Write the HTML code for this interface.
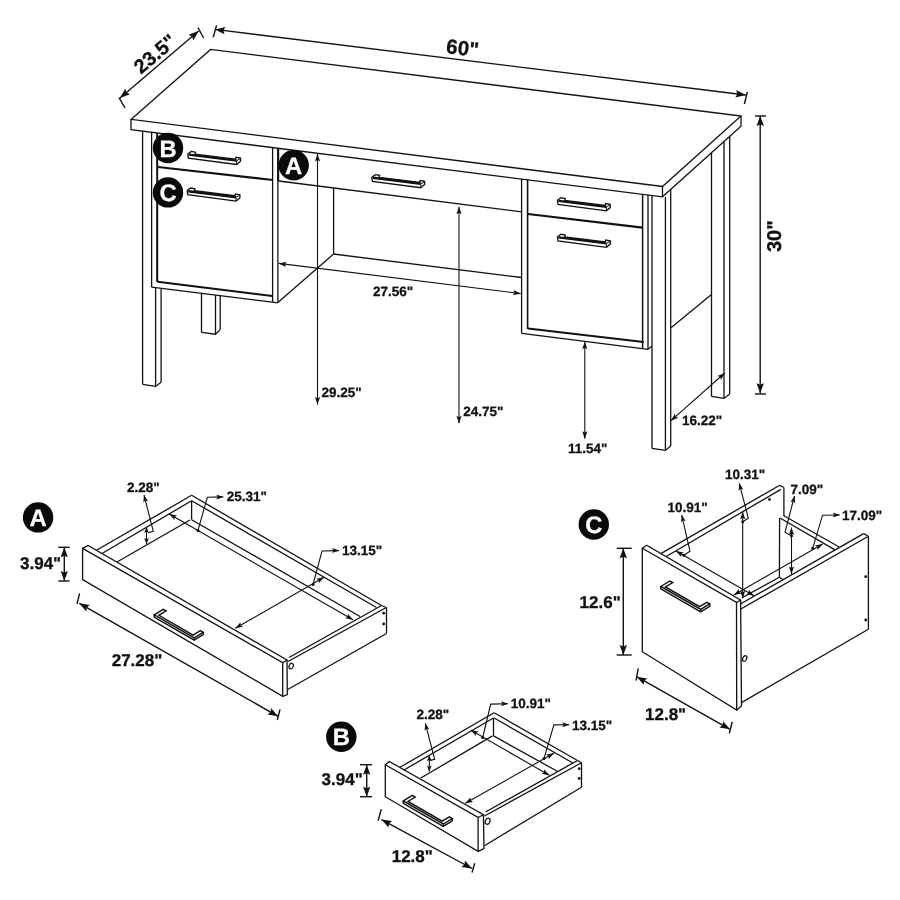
<!DOCTYPE html>
<html><head><meta charset="utf-8"><title>Desk dimensions</title>
<style>
html,body{margin:0;padding:0;background:#fff;}
body{width:900px;height:900px;overflow:hidden;}
svg{display:block;will-change:transform;opacity:0.999;}
svg text{font-family:"Liberation Sans",Arial,Helvetica,sans-serif;font-weight:bold;fill:#111;stroke:#111;stroke-width:0.3px;text-rendering:geometricPrecision;}
</style></head><body>
<svg width="900" height="900" viewBox="0 0 900 900">
<rect width="900" height="900" fill="#fff"/>
<path d="M131.0 119.4 L210.6 49.4 L741.0 116.0 L662.5 186.5 Z" fill="#fff" stroke="#111" stroke-width="1.3" stroke-linejoin="miter"/>
<path d="M131.0 119.4 L131.0 129.7 L662.5 196.8 L741.0 126.3 L741.0 116.0" fill="none" stroke="#111" stroke-width="1.3" stroke-linejoin="miter"/>
<line x1="662.5" y1="186.5" x2="662.5" y2="196.8" stroke="#111" stroke-width="1.3"/>
<line x1="142.6" y1="131.2" x2="142.6" y2="384.3" stroke="#111" stroke-width="1.3"/>
<line x1="151.6" y1="132.3" x2="151.6" y2="287.1" stroke="#111" stroke-width="1.3"/>
<line x1="155.6" y1="287.6" x2="155.6" y2="386.4" stroke="#111" stroke-width="1.3"/>
<line x1="161.1" y1="288.3" x2="161.1" y2="382.3" stroke="#111" stroke-width="1.3"/>
<path d="M142.6 384.3 L155.6 386.4 L161.1 382.3" fill="none" stroke="#111" stroke-width="1.3" stroke-linejoin="miter"/>
<line x1="157.2" y1="133.0" x2="157.2" y2="282.0" stroke="#111" stroke-width="2.0"/>
<line x1="151.6" y1="287.1" x2="277.8" y2="302.8" stroke="#111" stroke-width="1.3"/>
<line x1="157.6" y1="281.8" x2="272.4" y2="295.9" stroke="#111" stroke-width="2.0"/>
<line x1="272.6" y1="147.6" x2="272.6" y2="302.0" stroke="#111" stroke-width="1.3"/>
<line x1="277.9" y1="148.2" x2="277.9" y2="302.7" stroke="#111" stroke-width="1.3"/>
<line x1="158.0" y1="167.0" x2="273.0" y2="180.0" stroke="#111" stroke-width="2.2"/>
<line x1="201.5" y1="293.3" x2="201.5" y2="332.3" stroke="#111" stroke-width="1.3"/>
<line x1="215.5" y1="295.2" x2="215.5" y2="334.2" stroke="#111" stroke-width="1.3"/>
<line x1="220.2" y1="295.0" x2="220.2" y2="329.6" stroke="#111" stroke-width="1.3"/>
<path d="M201.5 332.3 L215.5 334.2 L220.2 329.6" fill="none" stroke="#111" stroke-width="1.3" stroke-linejoin="miter"/>
<line x1="278.7" y1="181.0" x2="521.6" y2="211.9" stroke="#111" stroke-width="1.3"/>
<line x1="278.2" y1="148.3" x2="278.2" y2="181.0" stroke="#111" stroke-width="2.0"/>
<line x1="333.6" y1="188.0" x2="333.6" y2="254.0" stroke="#111" stroke-width="1.3"/>
<line x1="277.9" y1="302.6" x2="333.6" y2="254.0" stroke="#111" stroke-width="1.3"/>
<line x1="333.6" y1="254.0" x2="521.6" y2="277.5" stroke="#111" stroke-width="1.3"/>
<line x1="521.6" y1="179.0" x2="521.6" y2="333.4" stroke="#111" stroke-width="1.3"/>
<line x1="527.6" y1="179.8" x2="527.6" y2="329.0" stroke="#111" stroke-width="1.6"/>
<line x1="521.7" y1="333.4" x2="648.0" y2="349.3" stroke="#111" stroke-width="1.3"/>
<line x1="648.0" y1="349.3" x2="651.9" y2="346.3" stroke="#111" stroke-width="1.3"/>
<line x1="528.0" y1="328.5" x2="643.6" y2="342.0" stroke="#111" stroke-width="2.0"/>
<line x1="528.0" y1="214.0" x2="642.6" y2="227.6" stroke="#111" stroke-width="2.2"/>
<line x1="642.6" y1="194.3" x2="642.6" y2="348.6" stroke="#111" stroke-width="1.5"/>
<line x1="648.0" y1="195.0" x2="648.0" y2="349.3" stroke="#111" stroke-width="1.3"/>
<line x1="652.0" y1="195.5" x2="652.0" y2="448.4" stroke="#111" stroke-width="1.3"/>
<line x1="665.4" y1="197.0" x2="665.4" y2="450.4" stroke="#111" stroke-width="1.3"/>
<line x1="670.7" y1="189.4" x2="670.7" y2="446.0" stroke="#111" stroke-width="1.3"/>
<path d="M652.0 448.4 L665.4 450.4 L670.7 446.0" fill="none" stroke="#111" stroke-width="1.3" stroke-linejoin="miter"/>
<line x1="671.0" y1="327.7" x2="711.5" y2="294.4" stroke="#111" stroke-width="1.3"/>
<line x1="711.5" y1="152.8" x2="711.5" y2="396.4" stroke="#111" stroke-width="1.3"/>
<line x1="724.0" y1="141.6" x2="724.0" y2="398.4" stroke="#111" stroke-width="1.3"/>
<line x1="729.7" y1="136.4" x2="729.7" y2="394.0" stroke="#111" stroke-width="1.3"/>
<path d="M711.5 396.4 L724.0 398.4 L729.7 394.0" fill="none" stroke="#111" stroke-width="1.3" stroke-linejoin="miter"/>
<path d="M187.8 154.0 L191.3 151.4 L195.5 152.2 L195.0 154.1 L235.5 159.1 L236.0 157.3 L240.5 158.1 L240.5 161.3 L236.7 164.5 L188.3 158.1 Z" fill="#fff" stroke="#111" stroke-width="1.35" stroke-linejoin="miter"/>
<line x1="188.8" y1="154.6" x2="236.7" y2="160.6" stroke="#111" stroke-width="2.4"/>
<line x1="236.7" y1="164.5" x2="236.7" y2="160.7" stroke="#111" stroke-width="1.0"/>
<line x1="236.7" y1="160.7" x2="240.5" y2="158.4" stroke="#111" stroke-width="1.0"/>
<path d="M187.2 190.6 L190.7 188.0 L194.9 188.8 L194.4 190.7 L234.9 195.7 L235.4 193.9 L239.9 194.7 L239.9 197.9 L236.1 201.1 L187.7 194.7 Z" fill="#fff" stroke="#111" stroke-width="1.35" stroke-linejoin="miter"/>
<line x1="188.2" y1="191.2" x2="236.1" y2="197.2" stroke="#111" stroke-width="2.4"/>
<line x1="236.1" y1="201.1" x2="236.1" y2="197.3" stroke="#111" stroke-width="1.0"/>
<line x1="236.1" y1="197.3" x2="239.9" y2="195.0" stroke="#111" stroke-width="1.0"/>
<path d="M371.9 177.2 L375.4 174.6 L379.6 175.4 L379.1 177.3 L419.6 182.3 L420.1 180.5 L424.6 181.3 L424.6 184.5 L420.8 187.7 L372.4 181.3 Z" fill="#fff" stroke="#111" stroke-width="1.35" stroke-linejoin="miter"/>
<line x1="372.9" y1="177.8" x2="420.8" y2="183.8" stroke="#111" stroke-width="2.4"/>
<line x1="420.8" y1="187.7" x2="420.8" y2="183.9" stroke="#111" stroke-width="1.0"/>
<line x1="420.8" y1="183.9" x2="424.6" y2="181.6" stroke="#111" stroke-width="1.0"/>
<path d="M557.5 200.3 L561.0 197.7 L565.2 198.5 L564.7 200.4 L605.2 205.4 L605.7 203.6 L610.2 204.4 L610.2 207.6 L606.4 210.8 L558.0 204.4 Z" fill="#fff" stroke="#111" stroke-width="1.35" stroke-linejoin="miter"/>
<line x1="558.5" y1="200.9" x2="606.4" y2="206.9" stroke="#111" stroke-width="2.4"/>
<line x1="606.4" y1="210.8" x2="606.4" y2="207.0" stroke="#111" stroke-width="1.0"/>
<line x1="606.4" y1="207.0" x2="610.2" y2="204.7" stroke="#111" stroke-width="1.0"/>
<path d="M557.5 236.8 L561.0 234.2 L565.2 235.0 L564.7 236.9 L605.2 241.9 L605.7 240.1 L610.2 240.9 L610.2 244.1 L606.4 247.3 L558.0 240.9 Z" fill="#fff" stroke="#111" stroke-width="1.35" stroke-linejoin="miter"/>
<line x1="558.5" y1="237.4" x2="606.4" y2="243.4" stroke="#111" stroke-width="2.4"/>
<line x1="606.4" y1="247.3" x2="606.4" y2="243.5" stroke="#111" stroke-width="1.0"/>
<line x1="606.4" y1="243.5" x2="610.2" y2="241.2" stroke="#111" stroke-width="1.0"/>
<circle cx="168.0" cy="148.0" r="15.2" fill="#0a0a0a"/>
<text x="168.0" y="156.5" font-size="23.8" text-anchor="middle" style="fill:#fff;stroke:#fff">B</text>
<circle cx="168.0" cy="192.4" r="15.2" fill="#0a0a0a"/>
<text x="168.0" y="200.9" font-size="23.8" text-anchor="middle" style="fill:#fff;stroke:#fff">C</text>
<circle cx="293.7" cy="165.2" r="15.2" fill="#0a0a0a"/>
<text x="293.7" y="173.7" font-size="23.8" text-anchor="middle" style="fill:#fff;stroke:#fff">A</text>
<line x1="317.5" y1="154.0" x2="317.5" y2="404.6" stroke="#111" stroke-width="1.1"/>
<path d="M317.5 154.0 L320.1 161.5 L317.5 160.0 L314.9 161.5 Z" fill="#111"/>
<path d="M317.5 404.6 L314.9 397.1 L317.5 398.6 L320.1 397.1 Z" fill="#111"/>
<line x1="459.0" y1="206.7" x2="459.0" y2="423.3" stroke="#111" stroke-width="1.1"/>
<path d="M459.0 206.7 L461.6 214.2 L459.0 212.7 L456.4 214.2 Z" fill="#111"/>
<path d="M459.0 423.3 L456.4 415.8 L459.0 417.3 L461.6 415.8 Z" fill="#111"/>
<line x1="584.8" y1="341.7" x2="584.8" y2="438.8" stroke="#111" stroke-width="1.1"/>
<path d="M584.8 341.7 L587.4 349.2 L584.8 347.7 L582.2 349.2 Z" fill="#111"/>
<path d="M584.8 438.8 L582.2 431.3 L584.8 432.8 L587.4 431.3 Z" fill="#111"/>
<line x1="671.0" y1="420.7" x2="724.8" y2="373.0" stroke="#111" stroke-width="1.1"/>
<path d="M671.0 420.7 L674.9 413.8 L675.5 416.7 L678.3 417.7 Z" fill="#111"/>
<path d="M724.8 373.0 L720.9 379.9 L720.3 377.0 L717.5 376.0 Z" fill="#111"/>
<line x1="278.8" y1="263.4" x2="520.6" y2="293.6" stroke="#111" stroke-width="1.1"/>
<path d="M278.8 263.4 L286.6 261.7 L284.8 264.1 L285.9 266.9 Z" fill="#111"/>
<path d="M520.6 293.6 L512.8 295.3 L514.6 292.9 L513.5 290.1 Z" fill="#111"/>
<line x1="760.2" y1="116.0" x2="760.2" y2="393.3" stroke="#111" stroke-width="1.4"/>
<path d="M760.2 116.0 L763.9 126.0 L760.2 124.5 L756.5 126.0 Z" fill="#111"/>
<path d="M760.2 393.3 L756.5 383.3 L760.2 384.8 L763.9 383.3 Z" fill="#111"/>
<line x1="755.0" y1="116.0" x2="766.0" y2="116.0" stroke="#111" stroke-width="1.4"/>
<line x1="755.0" y1="394.0" x2="766.0" y2="394.0" stroke="#111" stroke-width="1.4"/>
<line x1="215.0" y1="29.4" x2="745.7" y2="95.0" stroke="#111" stroke-width="1.4"/>
<path d="M215.0 29.4 L225.4 27.0 L223.4 30.4 L224.5 34.3 Z" fill="#111"/>
<path d="M745.7 95.0 L735.3 97.4 L737.3 94.0 L736.2 90.1 Z" fill="#111"/>
<line x1="216.6" y1="25.4" x2="213.2" y2="37.2" stroke="#111" stroke-width="1.4"/>
<line x1="747.3" y1="92.0" x2="744.4" y2="104.0" stroke="#111" stroke-width="1.4"/>
<line x1="120.0" y1="98.0" x2="198.6" y2="31.0" stroke="#111" stroke-width="1.4"/>
<path d="M120.0 98.0 L125.2 88.7 L126.5 92.5 L130.0 94.3 Z" fill="#111"/>
<path d="M198.6 31.0 L193.4 40.3 L192.1 36.5 L188.6 34.7 Z" fill="#111"/>
<line x1="119.0" y1="97.6" x2="125.0" y2="108.0" stroke="#111" stroke-width="1.4"/>
<line x1="198.0" y1="27.6" x2="203.6" y2="38.0" stroke="#111" stroke-width="1.4"/>
<text x="373.0" y="295.6" font-size="13.5" text-anchor="start">27.56&quot;</text>
<text x="321.4" y="396.8" font-size="13.5" text-anchor="start">29.25&quot;</text>
<text x="463.3" y="415.7" font-size="13.5" text-anchor="start">24.75&quot;</text>
<text x="568.0" y="453.3" font-size="13.5" text-anchor="start">11.54&quot;</text>
<text x="682.0" y="424.5" font-size="13.5" text-anchor="start">16.22&quot;</text>
<text x="445.6" y="53.1" font-size="20.5" text-anchor="start" transform="rotate(7 445.6 53.1)">60&quot;</text>
<text x="781.1" y="252.0" font-size="20" text-anchor="start" transform="rotate(-90 781.1 252.0)">30&quot;</text>
<text x="141.0" y="74.8" font-size="20" text-anchor="start" transform="rotate(-40.4 141.0 74.8)">23.5&quot;</text>
<circle cx="38.1" cy="517.4" r="15.2" fill="#0a0a0a"/>
<text x="38.1" y="525.9" font-size="23.8" text-anchor="middle" style="fill:#fff;stroke:#fff">A</text>
<path d="M82.6 548.4 L282.7 662.7 L282.7 696.3 L82.6 579.6 Z" fill="none" stroke="#111" stroke-width="1.3" stroke-linejoin="miter"/>
<path d="M82.6 548.4 L88.0 545.4 L287.0 660.0 L282.7 662.7" fill="none" stroke="#111" stroke-width="1.3" stroke-linejoin="miter"/>
<path d="M287.0 660.0 L287.3 694.5 L282.7 696.3" fill="none" stroke="#111" stroke-width="1.3" stroke-linejoin="miter"/>
<line x1="96.5" y1="550.3" x2="191.6" y2="495.3" stroke="#111" stroke-width="1.3"/>
<line x1="102.0" y1="553.5" x2="191.6" y2="500.7" stroke="#111" stroke-width="1.3"/>
<line x1="117.0" y1="562.0" x2="190.0" y2="520.0" stroke="#111" stroke-width="1.3"/>
<line x1="191.6" y1="500.7" x2="191.6" y2="519.7" stroke="#111" stroke-width="1.3"/>
<line x1="191.6" y1="495.3" x2="381.5" y2="605.5" stroke="#111" stroke-width="1.3"/>
<line x1="381.5" y1="605.5" x2="386.3" y2="607.5" stroke="#111" stroke-width="1.3"/>
<line x1="191.6" y1="500.7" x2="376.5" y2="607.5" stroke="#111" stroke-width="1.3"/>
<line x1="191.6" y1="519.7" x2="360.0" y2="616.5" stroke="#111" stroke-width="1.3"/>
<line x1="381.5" y1="605.5" x2="289.0" y2="657.5" stroke="#111" stroke-width="1.3"/>
<line x1="386.3" y1="607.5" x2="288.0" y2="661.5" stroke="#111" stroke-width="1.3"/>
<line x1="386.5" y1="607.5" x2="386.5" y2="633.5" stroke="#111" stroke-width="1.3"/>
<line x1="386.5" y1="633.5" x2="287.7" y2="689.5" stroke="#111" stroke-width="1.3"/>
<circle cx="383.7" cy="613.2" r="1.4" fill="#111"/>
<circle cx="383.7" cy="624.0" r="1.4" fill="#111"/>
<ellipse cx="291.2" cy="666.1" rx="2.0" ry="2.9" fill="none" stroke="#111" stroke-width="1.2" transform="rotate(25 291.3 666)"/>
<path d="M154.2 614.8 L163.2 609.3 L166.1 610.9 L158.9 615.3 L193.1 635.1 L200.3 630.7 L203.2 632.3 L194.2 637.8 Z" fill="#fff" stroke="#111" stroke-width="1.45" stroke-linejoin="miter"/>
<path d="M154.2 614.8 L154.2 617.2 L194.2 640.2 L203.2 634.7 L203.2 632.3" fill="none" stroke="#111" stroke-width="1.45" stroke-linejoin="miter"/>
<line x1="194.2" y1="637.8" x2="194.2" y2="640.2" stroke="#111" stroke-width="1.2"/>
<line x1="64.3" y1="547.3" x2="64.3" y2="581.0" stroke="#111" stroke-width="1.4"/>
<path d="M64.3 547.3 L67.9 557.3 L64.3 555.8 L60.7 557.3 Z" fill="#111"/>
<path d="M64.3 581.0 L60.7 571.0 L64.3 572.5 L67.9 571.0 Z" fill="#111"/>
<line x1="58.3" y1="547.3" x2="69.6" y2="547.3" stroke="#111" stroke-width="1.4"/>
<line x1="58.3" y1="581.0" x2="69.6" y2="581.0" stroke="#111" stroke-width="1.4"/>
<text x="20.0" y="569.3" font-size="17" text-anchor="start">3.94&quot;</text>
<line x1="79.3" y1="603.3" x2="278.0" y2="716.3" stroke="#111" stroke-width="1.4"/>
<path d="M79.3 603.3 L89.8 605.0 L86.7 607.5 L86.2 611.5 Z" fill="#111"/>
<path d="M278.0 716.3 L267.5 714.6 L270.6 712.1 L271.1 708.1 Z" fill="#111"/>
<line x1="79.6" y1="593.4" x2="77.0" y2="604.0" stroke="#111" stroke-width="1.4"/>
<line x1="280.0" y1="709.3" x2="277.3" y2="720.0" stroke="#111" stroke-width="1.4"/>
<text x="111.7" y="666.0" font-size="17" text-anchor="start">27.28&quot;</text>
<line x1="169.3" y1="514.0" x2="353.0" y2="619.8" stroke="#111" stroke-width="1.1"/>
<path d="M169.3 514.0 L177.1 515.5 L174.5 517.0 L174.5 520.0 Z" fill="#111"/>
<path d="M353.0 619.8 L345.2 618.3 L347.8 616.8 L347.8 613.8 Z" fill="#111"/>
<circle cx="198.0" cy="530.4" r="1.5" fill="#111"/>
<path d="M198.0 530.4 L207.3 497.3 L223.3 496.9" fill="none" stroke="#111" stroke-width="1.1" stroke-linejoin="miter"/>
<path d="M223.3 496.9 L216.3 499.4 L217.8 496.9 L216.3 494.4 Z" fill="#111"/>
<text x="226.7" y="501.0" font-size="13.5" text-anchor="start">25.31&quot;</text>
<line x1="235.3" y1="628.3" x2="324.0" y2="577.2" stroke="#111" stroke-width="1.1"/>
<path d="M235.3 628.3 L240.5 622.3 L240.5 625.3 L243.1 626.8 Z" fill="#111"/>
<path d="M324.0 577.2 L318.8 583.2 L318.8 580.2 L316.2 578.7 Z" fill="#111"/>
<circle cx="313.0" cy="584.5" r="1.5" fill="#111"/>
<path d="M313.0 584.5 L322.0 551.0 L339.0 550.6" fill="none" stroke="#111" stroke-width="1.1" stroke-linejoin="miter"/>
<path d="M339.0 550.6 L332.0 553.1 L333.5 550.6 L332.0 548.1 Z" fill="#111"/>
<text x="342.0" y="555.0" font-size="13.5" text-anchor="start">13.15&quot;</text>
<line x1="146.5" y1="527.0" x2="146.5" y2="544.0" stroke="#111" stroke-width="1.1"/>
<path d="M146.5 527.0 L148.9 533.0 L146.5 531.5 L144.1 533.0 Z" fill="#111"/>
<path d="M146.5 544.0 L144.1 538.0 L146.5 539.5 L148.9 538.0 Z" fill="#111"/>
<path d="M144.0 495.0 L153.3 531.3 L148.0 532.7" fill="none" stroke="#111" stroke-width="1.1" stroke-linejoin="miter"/>
<path d="M144.0 495.0 L148.1 501.2 L145.3 500.3 L143.3 502.4 Z" fill="#111"/>
<text x="127.0" y="491.6" font-size="13.5" text-anchor="start">2.28&quot;</text>
<circle cx="341.3" cy="736.8" r="15.2" fill="#0a0a0a"/>
<text x="341.3" y="745.3" font-size="23.8" text-anchor="middle" style="fill:#fff;stroke:#fff">B</text>
<path d="M385.3 764.7 L478.1 817.5 L478.1 851.3 L385.3 796.7 Z" fill="none" stroke="#111" stroke-width="1.3" stroke-linejoin="miter"/>
<path d="M385.3 764.7 L389.3 761.5 L483.4 814.8 L478.1 817.5" fill="none" stroke="#111" stroke-width="1.3" stroke-linejoin="miter"/>
<path d="M483.4 814.8 L484.0 848.7 L478.1 851.3" fill="none" stroke="#111" stroke-width="1.3" stroke-linejoin="miter"/>
<line x1="400.0" y1="767.3" x2="494.1" y2="712.7" stroke="#111" stroke-width="1.3"/>
<line x1="404.0" y1="770.0" x2="493.5" y2="718.0" stroke="#111" stroke-width="1.3"/>
<line x1="420.8" y1="778.0" x2="492.5" y2="735.9" stroke="#111" stroke-width="1.3"/>
<line x1="493.5" y1="718.0" x2="493.5" y2="735.9" stroke="#111" stroke-width="1.3"/>
<line x1="494.1" y1="712.7" x2="577.5" y2="760.5" stroke="#111" stroke-width="1.3"/>
<line x1="577.5" y1="760.5" x2="581.5" y2="762.7" stroke="#111" stroke-width="1.3"/>
<line x1="494.1" y1="718.0" x2="573.3" y2="763.3" stroke="#111" stroke-width="1.3"/>
<line x1="493.5" y1="735.9" x2="557.3" y2="771.3" stroke="#111" stroke-width="1.3"/>
<line x1="577.5" y1="760.5" x2="485.5" y2="812.0" stroke="#111" stroke-width="1.3"/>
<line x1="581.5" y1="762.7" x2="484.5" y2="816.0" stroke="#111" stroke-width="1.3"/>
<line x1="581.5" y1="762.7" x2="581.5" y2="787.3" stroke="#111" stroke-width="1.3"/>
<line x1="581.5" y1="787.3" x2="484.8" y2="845.5" stroke="#111" stroke-width="1.3"/>
<circle cx="579.2" cy="768.7" r="1.4" fill="#111"/>
<circle cx="579.2" cy="778.5" r="1.4" fill="#111"/>
<ellipse cx="487.6" cy="821.2" rx="2.3" ry="3.2" fill="none" stroke="#111" stroke-width="1.2" transform="rotate(25 487.7 821.2)"/>
<path d="M403.3 800.9 L412.3 795.4 L415.2 797.1 L408.0 801.5 L442.2 821.2 L449.4 816.8 L452.3 818.5 L443.3 824.0 Z" fill="#fff" stroke="#111" stroke-width="1.45" stroke-linejoin="miter"/>
<path d="M403.3 800.9 L403.3 803.3 L443.3 826.4 L452.3 820.9 L452.3 818.5" fill="none" stroke="#111" stroke-width="1.45" stroke-linejoin="miter"/>
<line x1="443.3" y1="824.0" x2="443.3" y2="826.4" stroke="#111" stroke-width="1.2"/>
<line x1="366.7" y1="764.7" x2="366.7" y2="796.7" stroke="#111" stroke-width="1.4"/>
<path d="M366.7 764.7 L370.3 774.7 L366.7 773.2 L363.1 774.7 Z" fill="#111"/>
<path d="M366.7 796.7 L363.1 786.7 L366.7 788.2 L370.3 786.7 Z" fill="#111"/>
<line x1="360.0" y1="764.7" x2="372.0" y2="764.7" stroke="#111" stroke-width="1.4"/>
<line x1="360.0" y1="796.7" x2="372.0" y2="796.7" stroke="#111" stroke-width="1.4"/>
<text x="321.6" y="784.6" font-size="17" text-anchor="start">3.94&quot;</text>
<line x1="381.5" y1="819.6" x2="472.0" y2="868.5" stroke="#111" stroke-width="1.4"/>
<path d="M381.5 819.6 L392.1 821.1 L389.0 823.6 L388.5 827.6 Z" fill="#111"/>
<path d="M472.0 868.5 L461.4 867.0 L464.5 864.5 L465.0 860.5 Z" fill="#111"/>
<line x1="381.3" y1="809.2" x2="378.1" y2="820.7" stroke="#111" stroke-width="1.4"/>
<line x1="474.7" y1="863.3" x2="472.0" y2="872.5" stroke="#111" stroke-width="1.4"/>
<text x="391.7" y="862.3" font-size="17" text-anchor="start">12.8&quot;</text>
<line x1="470.7" y1="730.0" x2="549.3" y2="775.3" stroke="#111" stroke-width="1.1"/>
<path d="M470.7 730.0 L478.5 731.5 L475.9 733.0 L475.9 736.0 Z" fill="#111"/>
<path d="M549.3 775.3 L541.5 773.8 L544.1 772.3 L544.1 769.3 Z" fill="#111"/>
<circle cx="482.7" cy="737.5" r="1.5" fill="#111"/>
<path d="M482.7 737.5 L490.7 704.1 L508.0 703.7" fill="none" stroke="#111" stroke-width="1.1" stroke-linejoin="miter"/>
<path d="M508.0 703.7 L501.0 706.2 L502.5 703.7 L501.0 701.2 Z" fill="#111"/>
<text x="510.7" y="708.2" font-size="13.5" text-anchor="start">10.91&quot;</text>
<line x1="465.3" y1="803.3" x2="553.9" y2="753.2" stroke="#111" stroke-width="1.1"/>
<path d="M465.3 803.3 L470.5 797.3 L470.5 800.3 L473.1 801.9 Z" fill="#111"/>
<path d="M553.9 753.2 L548.7 759.2 L548.7 756.2 L546.1 754.6 Z" fill="#111"/>
<circle cx="544.0" cy="758.5" r="1.5" fill="#111"/>
<path d="M544.0 758.5 L553.9 724.9 L569.3 724.7" fill="none" stroke="#111" stroke-width="1.1" stroke-linejoin="miter"/>
<path d="M569.3 724.7 L562.3 727.2 L563.8 724.7 L562.3 722.2 Z" fill="#111"/>
<text x="572.0" y="729.5" font-size="13.5" text-anchor="start">13.15&quot;</text>
<line x1="429.3" y1="755.3" x2="429.3" y2="771.6" stroke="#111" stroke-width="1.1"/>
<path d="M429.3 755.3 L431.7 761.3 L429.3 759.8 L426.9 761.3 Z" fill="#111"/>
<path d="M429.3 771.6 L426.9 765.6 L429.3 767.1 L431.7 765.6 Z" fill="#111"/>
<path d="M425.3 723.3 L434.7 759.3 L429.9 760.4" fill="none" stroke="#111" stroke-width="1.1" stroke-linejoin="miter"/>
<path d="M425.3 723.3 L429.4 729.5 L426.6 728.6 L424.6 730.7 Z" fill="#111"/>
<text x="416.5" y="719.3" font-size="13.5" text-anchor="start">2.28&quot;</text>
<circle cx="593.8" cy="524.5" r="15.2" fill="#0a0a0a"/>
<text x="593.8" y="533.0" font-size="23.8" text-anchor="middle" style="fill:#fff;stroke:#fff">C</text>
<path d="M642.3 548.3 L736.5 602.5 L736.7 710.0 L642.3 651.7 Z" fill="none" stroke="#111" stroke-width="1.3" stroke-linejoin="miter"/>
<path d="M642.3 548.3 L646.6 545.3 L740.5 600.0 L736.5 602.5" fill="none" stroke="#111" stroke-width="1.3" stroke-linejoin="miter"/>
<path d="M740.6 600.0 L741.5 706.0 L736.7 710.0" fill="none" stroke="#111" stroke-width="1.3" stroke-linejoin="miter"/>
<line x1="660.4" y1="553.9" x2="779.7" y2="485.3" stroke="#111" stroke-width="1.3"/>
<line x1="779.7" y1="485.3" x2="783.9" y2="487.5" stroke="#111" stroke-width="1.3"/>
<line x1="666.2" y1="556.5" x2="780.8" y2="489.4" stroke="#111" stroke-width="1.3"/>
<line x1="783.9" y1="487.5" x2="783.9" y2="516.0" stroke="#111" stroke-width="1.3"/>
<circle cx="769.5" cy="499.5" r="1.4" fill="#111"/>
<line x1="783.9" y1="515.8" x2="839.2" y2="547.0" stroke="#111" stroke-width="1.3"/>
<line x1="780.0" y1="518.0" x2="835.0" y2="549.9" stroke="#111" stroke-width="1.3"/>
<line x1="779.6" y1="518.0" x2="779.4" y2="577.2" stroke="#111" stroke-width="1.3"/>
<line x1="779.4" y1="577.2" x2="783.2" y2="579.7" stroke="#111" stroke-width="1.3"/>
<line x1="742.0" y1="597.8" x2="779.4" y2="577.2" stroke="#111" stroke-width="1.3"/>
<line x1="740.4" y1="604.0" x2="863.6" y2="533.6" stroke="#111" stroke-width="1.3"/>
<line x1="863.6" y1="533.6" x2="868.4" y2="536.2" stroke="#111" stroke-width="1.3"/>
<line x1="740.4" y1="609.3" x2="868.4" y2="536.2" stroke="#111" stroke-width="1.3"/>
<line x1="868.4" y1="536.2" x2="868.4" y2="629.2" stroke="#111" stroke-width="1.3"/>
<line x1="741.5" y1="702.6" x2="868.4" y2="629.2" stroke="#111" stroke-width="1.3"/>
<circle cx="865.7" cy="576.7" r="1.4" fill="#111"/>
<circle cx="865.7" cy="620.0" r="1.4" fill="#111"/>
<ellipse cx="744.8" cy="658.4" rx="1.9" ry="3.0" fill="none" stroke="#111" stroke-width="1.2" transform="rotate(25 744.3 658.3)"/>
<path d="M660.8 586.5 L669.8 581.0 L672.7 582.6 L665.5 587.0 L699.6 606.7 L706.8 602.3 L709.7 603.9 L700.7 609.4 Z" fill="#fff" stroke="#111" stroke-width="1.45" stroke-linejoin="miter"/>
<path d="M660.8 586.5 L660.8 588.9 L700.7 611.8 L709.7 606.3 L709.7 603.9" fill="none" stroke="#111" stroke-width="1.45" stroke-linejoin="miter"/>
<line x1="700.7" y1="609.4" x2="700.7" y2="611.8" stroke="#111" stroke-width="1.2"/>
<line x1="623.3" y1="548.3" x2="623.3" y2="655.0" stroke="#111" stroke-width="1.4"/>
<path d="M623.3 548.3 L627.0 558.3 L623.3 556.8 L619.6 558.3 Z" fill="#111"/>
<path d="M623.3 655.0 L619.6 645.0 L623.3 646.5 L627.0 645.0 Z" fill="#111"/>
<line x1="616.7" y1="548.3" x2="631.7" y2="548.3" stroke="#111" stroke-width="1.4"/>
<line x1="616.7" y1="655.0" x2="631.7" y2="655.0" stroke="#111" stroke-width="1.4"/>
<text x="579.6" y="607.7" font-size="17" text-anchor="start">12.6&quot;</text>
<line x1="636.7" y1="676.7" x2="730.0" y2="729.3" stroke="#111" stroke-width="1.4"/>
<path d="M636.7 676.7 L647.2 678.4 L644.1 680.9 L643.6 684.8 Z" fill="#111"/>
<path d="M730.0 729.3 L719.5 727.6 L722.6 725.1 L723.1 721.2 Z" fill="#111"/>
<line x1="638.3" y1="668.3" x2="636.0" y2="680.7" stroke="#111" stroke-width="1.4"/>
<line x1="732.3" y1="721.7" x2="729.3" y2="733.3" stroke="#111" stroke-width="1.4"/>
<text x="645.0" y="720.2" font-size="17" text-anchor="start">12.8&quot;</text>
<line x1="676.0" y1="551.0" x2="754.0" y2="595.7" stroke="#111" stroke-width="1.1"/>
<path d="M676.0 551.0 L683.8 552.5 L681.2 554.0 L681.2 557.0 Z" fill="#111"/>
<path d="M754.0 595.7 L746.2 594.2 L748.8 592.7 L748.8 589.7 Z" fill="#111"/>
<circle cx="683.8" cy="555.2" r="1.5" fill="#111"/>
<path d="M681.7 515.0 L690.0 551.3 L683.8 555.2" fill="none" stroke="#111" stroke-width="1.1" stroke-linejoin="miter"/>
<path d="M681.7 515.0 L685.8 521.2 L683.0 520.3 L681.0 522.4 Z" fill="#111"/>
<text x="667.5" y="511.6" font-size="13.5" text-anchor="start">10.91&quot;</text>
<line x1="742.7" y1="511.7" x2="742.7" y2="598.3" stroke="#111" stroke-width="1.1"/>
<path d="M742.7 511.7 L745.3 519.2 L742.7 517.7 L740.1 519.2 Z" fill="#111"/>
<path d="M742.7 598.3 L740.1 590.8 L742.7 592.3 L745.3 590.8 Z" fill="#111"/>
<circle cx="742.7" cy="521.7" r="1.5" fill="#111"/>
<path d="M739.3 483.3 L748.3 518.3 L742.7 521.7" fill="none" stroke="#111" stroke-width="1.1" stroke-linejoin="miter"/>
<path d="M739.3 483.3 L743.4 489.5 L740.6 488.6 L738.6 490.7 Z" fill="#111"/>
<text x="725.0" y="479.3" font-size="13.5" text-anchor="start">10.31&quot;</text>
<line x1="791.5" y1="527.5" x2="791.5" y2="574.0" stroke="#111" stroke-width="1.1"/>
<path d="M791.5 527.5 L794.1 535.0 L791.5 533.5 L788.9 535.0 Z" fill="#111"/>
<path d="M791.5 574.0 L788.9 566.5 L791.5 568.0 L794.1 566.5 Z" fill="#111"/>
<circle cx="791.5" cy="535.7" r="1.5" fill="#111"/>
<path d="M794.5 496.0 L785.0 532.3 L791.5 535.7" fill="none" stroke="#111" stroke-width="1.1" stroke-linejoin="miter"/>
<path d="M794.5 496.0 L795.2 503.4 L793.2 501.3 L790.4 502.2 Z" fill="#111"/>
<text x="790.6" y="494.3" font-size="13.5" text-anchor="start">7.09&quot;</text>
<line x1="822.7" y1="544.0" x2="733.8" y2="595.0" stroke="#111" stroke-width="1.1"/>
<path d="M822.7 544.0 L817.5 550.0 L817.5 547.0 L814.9 545.5 Z" fill="#111"/>
<path d="M733.8 595.0 L739.0 589.0 L739.0 592.0 L741.6 593.5 Z" fill="#111"/>
<circle cx="812.7" cy="548.3" r="1.5" fill="#111"/>
<path d="M812.7 548.3 L822.5 515.2 L839.8 515.0" fill="none" stroke="#111" stroke-width="1.1" stroke-linejoin="miter"/>
<path d="M839.8 515.0 L832.8 517.5 L834.3 515.0 L832.8 512.5 Z" fill="#111"/>
<text x="842.0" y="519.6" font-size="13.5" text-anchor="start">17.09&quot;</text>
</svg>
</body></html>
